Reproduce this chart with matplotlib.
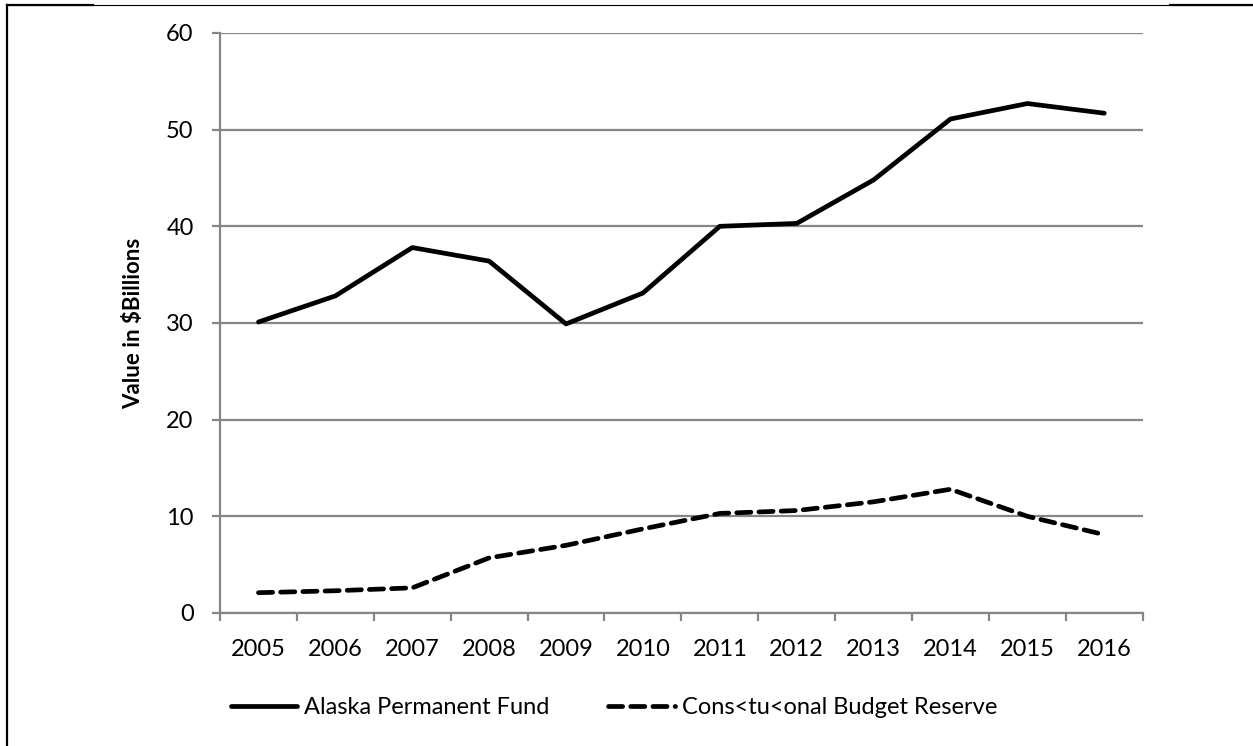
import matplotlib
matplotlib.use('Agg')
import matplotlib.pyplot as plt
from matplotlib.lines import Line2D

# values, $ billions
years = ['2005', '2006', '2007', '2008', '2009', '2010',
         '2011', '2012', '2013', '2014', '2015', '2016']
permanent_fund = [30.1, 32.8, 37.8, 36.4, 29.9, 33.1,
                  40.0, 40.3, 44.8, 51.1, 52.7, 51.7]
budget_reserve = [2.1, 2.3, 2.6, 5.7, 7.0, 8.7,
                  10.3, 10.6, 11.5, 12.8, 10.0, 8.1]
yticks = [0, 10, 20, 30, 40, 50, 60]

plt.rcParams['font.family'] = ['Lato', 'DejaVu Sans']
grid_col = '#868686'

fig = plt.figure(figsize=(12.53, 7.46), dpi=100)
ax = fig.add_axes([0.1756, 0.1783, 0.912 - 0.1756, 0.9558 - 0.1783])

x = range(len(years))
ax.plot(x, permanent_fund, color='black', lw=3.4, solid_capstyle='round',
        solid_joinstyle='round', label='Alaska Permanent Fund')
ax.plot(x, budget_reserve, color='black', lw=3.4, dashes=(3.0, 1.7),
        dash_capstyle='round', label='Cons<tu<onal Budget Reserve')

ax.set_xlim(-0.5, len(years) - 0.5)
ax.set_ylim(0, 60)
ax.set_yticks(yticks)
ax.set_xticks(x)
ax.set_xticklabels(years)
ax.set_xticks([i - 0.5 for i in range(len(years) + 1)], minor=True)

ax.yaxis.grid(True, color=grid_col, lw=1.6)
ax.set_axisbelow(True)
for s in ['top', 'right']:
    ax.spines[s].set_visible(False)
for s in ['left', 'bottom']:
    ax.spines[s].set_color(grid_col)
    ax.spines[s].set_linewidth(1.6)

ax.tick_params(axis='x', which='major', length=0, pad=19, labelsize=17)
ax.tick_params(axis='x', which='minor', length=6, width=1.6, color=grid_col)
ax.tick_params(axis='y', length=6, width=1.6, color=grid_col, pad=13, labelsize=17)

ax.set_ylabel('Value in $Billions', fontsize=16, fontweight='bold', labelpad=16)

fig.legend(loc='center', bbox_to_anchor=(0.49, 0.051), ncol=2, frameon=False,
           fontsize=17, handlelength=2.8, columnspacing=2.5, handletextpad=0.3)

# outer frame pieces
yt = 1 - 5 / 746
xl = 7 / 1253
fig.add_artist(Line2D([xl, 1.0], [yt, yt], color='black', lw=0.8))
fig.add_artist(Line2D([xl, 93 / 1253], [yt, yt], color='black', lw=1.6))
fig.add_artist(Line2D([1170 / 1253, 1.0], [yt, yt], color='black', lw=1.6))
fig.add_artist(Line2D([xl, xl], [0, yt], color='black', lw=1.6))

fig.savefig('out.png', dpi=100)
